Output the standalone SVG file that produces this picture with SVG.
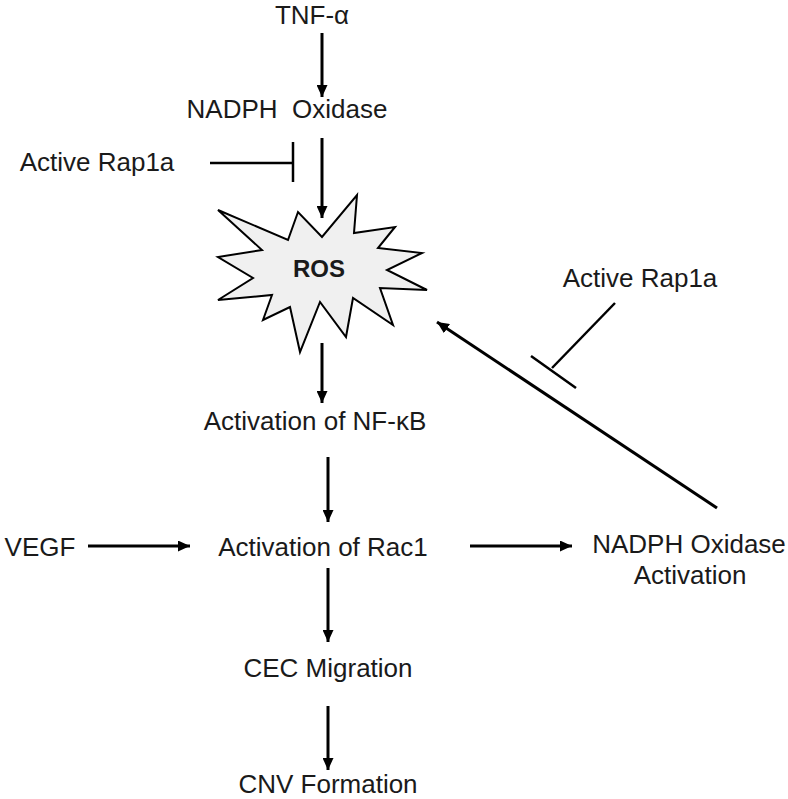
<svg xmlns="http://www.w3.org/2000/svg" width="788" height="799" viewBox="0 0 788 799">
<defs>
<marker id="arr" markerUnits="userSpaceOnUse" markerWidth="12" markerHeight="11" refX="12" refY="5.5" orient="auto">
<path d="M0,0 L12,5.5 L0,11 Z" fill="#000"/>
</marker>
<style>
text{font-family:"Liberation Sans",Arial,sans-serif;font-size:26px;fill:#1a1a1a;text-anchor:middle}
.a{stroke:#000;stroke-width:3;fill:none;marker-end:url(#arr)}
.i{stroke:#000;stroke-width:2.5;fill:none}
.ros{font-weight:bold;font-size:24px}
</style>
</defs>
<rect width="788" height="799" fill="#fff"/>
<g id="tnf"><text x="312" y="24">TNF-α</text></g>
<g id="nadph"><text x="287" y="118" xml:space="preserve">NADPH  Oxidase</text></g>
<g id="rap1a-left"><text x="97" y="171">Active Rap1a</text></g>
<g id="ros">
<path d="M218,210 L288,240 L298,212 L322,237 L357,195 L354,233 L395,227 L378,248 L422,253 L387,270 L427,290 L380,288 L393,325 L353,298 L346,337 L320,302 L300,352 L290,307 L263,320 L272,295 L218,300 L253,278 L218,257 L262,250 Z" fill="#f0f0f0" stroke="#000" stroke-width="2" stroke-linejoin="miter"/>
<text class="ros" x="319" y="277">ROS</text>
</g>
<g id="rap1a-right"><text x="640" y="287">Active Rap1a</text></g>
<g id="nfkb"><text x="315" y="430">Activation of NF-κB</text></g>
<g id="vegf"><text x="40" y="556">VEGF</text></g>
<g id="rac1"><text x="323" y="556">Activation of Rac1</text></g>
<g id="nadph-act"><text x="689" y="553">NADPH Oxidase</text><text x="690" y="584">Activation</text></g>
<g id="cec"><text x="328" y="677">CEC Migration</text></g>
<g id="cnv"><text x="328" y="793">CNV Formation</text></g>
<g id="connectors">
<line class="a" x1="322" y1="33" x2="322" y2="97"/>
<line class="i" x1="210" y1="163" x2="293" y2="163"/>
<line class="i" x1="293" y1="142" x2="293" y2="182"/>
<line class="a" x1="322" y1="138" x2="322" y2="218"/>
<line class="a" x1="322" y1="343" x2="322" y2="403"/>
<line class="a" x1="328" y1="457" x2="328" y2="522"/>
<line class="a" x1="88" y1="546" x2="190" y2="546"/>
<line class="a" x1="470" y1="546" x2="572" y2="546"/>
<line class="a" x1="328" y1="568" x2="328" y2="642"/>
<line class="a" x1="328" y1="706" x2="328" y2="770"/>
<line class="a" x1="717" y1="508" x2="437" y2="322"/>
<line class="i" x1="615" y1="303" x2="552" y2="368" stroke-width="2"/>
<line class="i" x1="531" y1="356" x2="576" y2="388" stroke-width="2"/>
</g>
</svg>
